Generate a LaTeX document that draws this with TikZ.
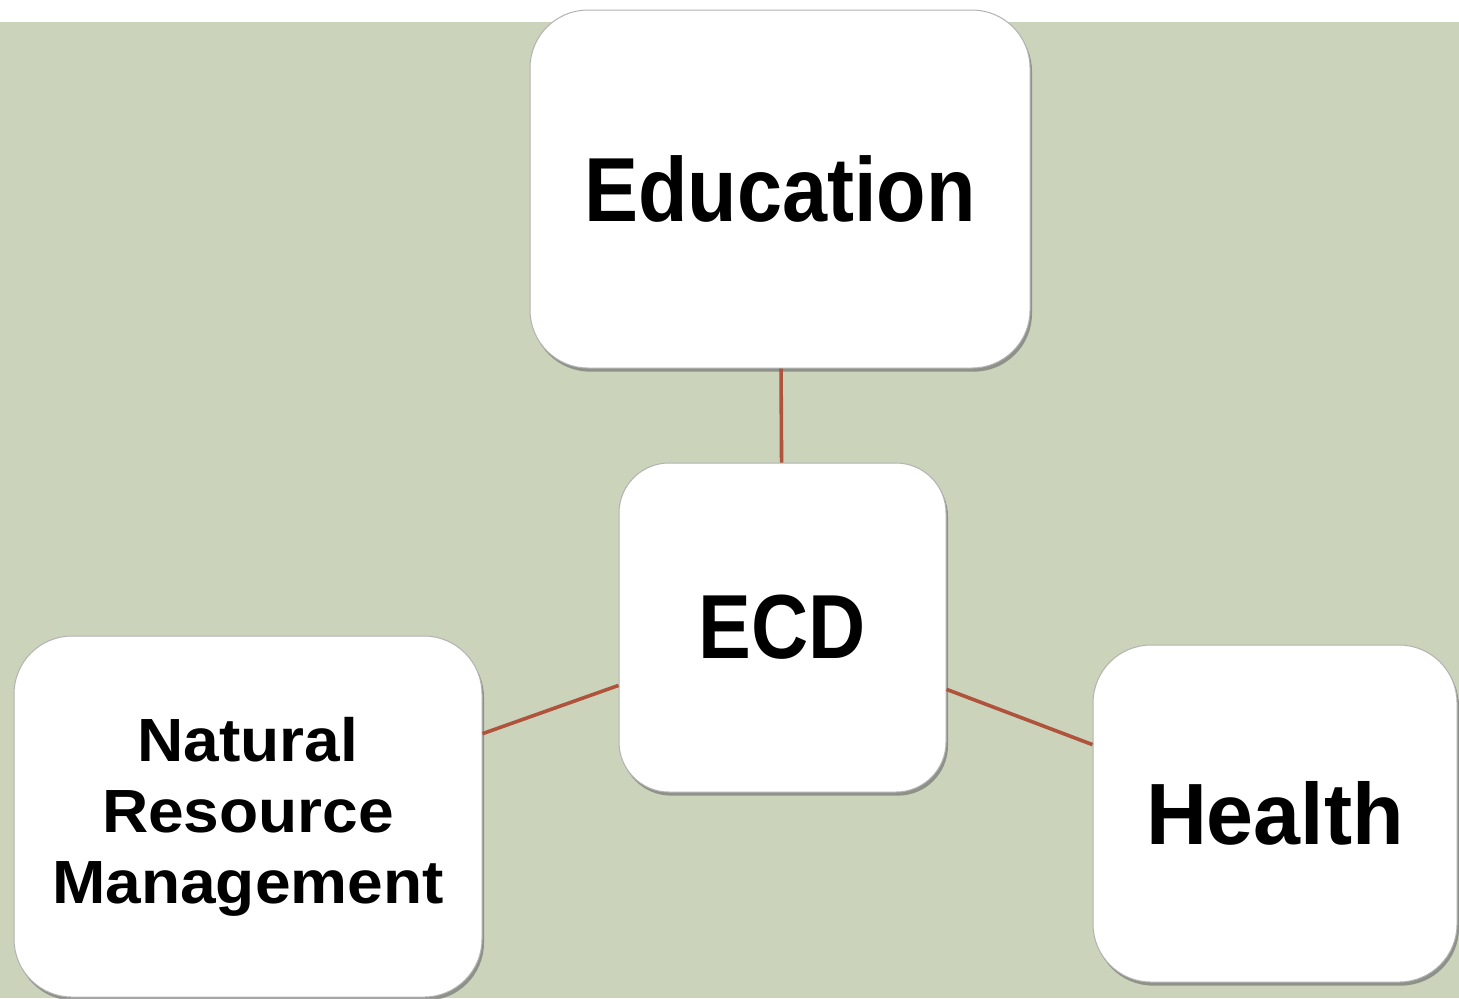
\documentclass[tikz,border=0pt]{standalone}
\usepackage{fontspec}
\setmainfont{Liberation Sans}
\usetikzlibrary{shadows}
\definecolor{bggreen}{HTML}{CCD3BB}
\definecolor{linkred}{HTML}{B0533D}
\newcommand{\hsq}[2]{\scalebox{#1}[1]{#2}}
\tikzset{
  card/.style={draw=black!30, line width=0.5pt, fill=white, rounded corners=29pt,
    inner sep=0pt, align=center, font=\bfseries,
    drop shadow={shadow xshift=1pt, shadow yshift=-1.8pt, opacity=0.6, fill=black!60}},
  link/.style={draw=linkred, line width=1.8pt}
}
\begin{document}
\begin{tikzpicture}[x=0.5pt,y=-0.5pt]
\useasboundingbox (0,0) rectangle (1459,998);
\fill[bggreen] (0,22) rectangle (1459,998);
\node[card, minimum width=250pt, minimum height=179pt,
  font=\bfseries\fontsize{45.5}{50}\selectfont] (edu) at (780,189) {\hsq{0.89}{Education}};
\node[card, rounded corners=25pt, minimum width=163.5pt, minimum height=164.5pt,
  font=\bfseries\fontsize{45.5}{50}\selectfont] (ecd) at (782.5,627.5) {\hsq{0.87}{ECD}};
\node[card, minimum width=234pt, minimum height=180.5pt,
  font=\bfseries\fontsize{30.5}{35.5}\selectfont] (nrm) at (248,816.5)
  {\raisebox{-2.5pt}{\parbox{230pt}{\centering\hsq{1.05}{Natural}\\\hsq{1.05}{Resource}\\\hsq{1.05}{Management}}}};
\node[card, minimum width=182pt, minimum height=168.5pt,
  font=\bfseries\fontsize{43.5}{48}\selectfont] (hea) at (1275,813.5) {\hsq{0.97}{Health}};
\draw[link] (edu) -- (ecd);
\draw[link] (ecd) -- (nrm);
\draw[link] (ecd) -- (hea);
\end{tikzpicture}
\end{document}
